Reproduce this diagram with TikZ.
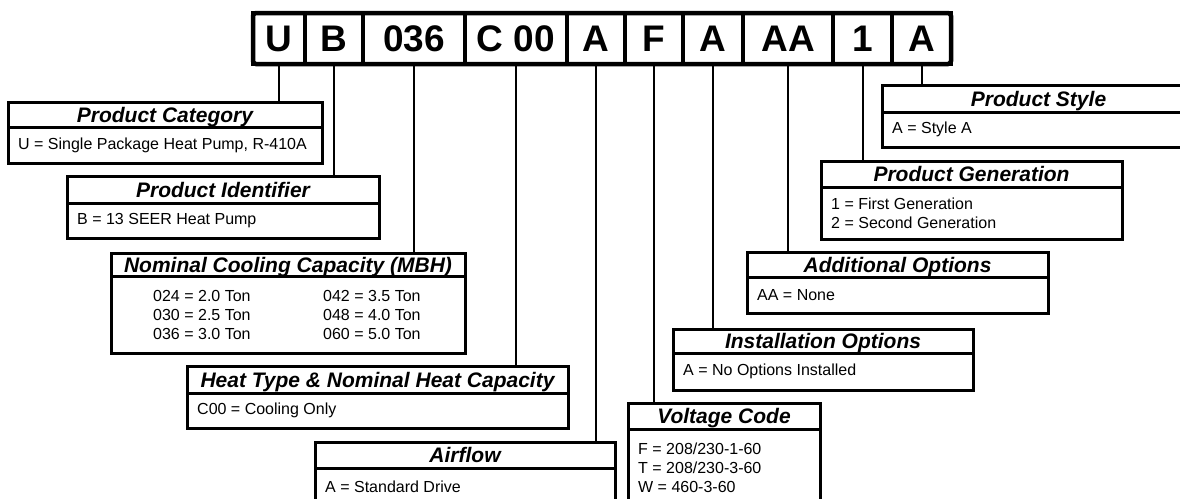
\documentclass[tikz,border=0pt]{standalone}
\usepackage{fontspec}
\setmainfont{Liberation Sans}
\newcommand\infobox[8]{%
  \pgfmathsetmacro\ibw{#6-#2}%
  \pgfmathsetmacro\ibh{#4-#3}%
  \pgfmathsetmacro\ibb{#5-#4}%
  \node[hdr, minimum width=\ibw pt, minimum height=\ibh pt] (#1) at (#2,#3) {#7};
  \node[bodybox, minimum width=\ibw pt, minimum height=\ibb pt] (#1b) at (#2,#4) {};
  \node[bodytext] (#1t) at ([xshift=10pt]#1b.west) {#8};
}
\begin{document}
\begin{tikzpicture}[x=1pt,y=-1pt,
  hdr/.style={draw, line width=3pt, inner sep=0pt, outer sep=0pt, anchor=north west,
    text height=15pt, text depth=0pt, font=\bfseries\itshape\fontsize{21}{21}\selectfont},
  bodybox/.style={draw, line width=3pt, inner sep=0pt, outer sep=0pt, anchor=north west},
  bodytext/.style={anchor=west, align=left, inner sep=0pt, font=\fontsize{16}{19}\selectfont},
  cell/.style={draw, line width=3.5pt, inner sep=0pt, outer sep=0pt, anchor=north west,
    minimum height=51pt, text height=26.5pt, text depth=0pt, font=\bfseries\fontsize{37}{37}\selectfont},
  conn/.style={line width=2pt}]
\useasboundingbox (0,0) rectangle (1180,498);
\clip (0,0) rectangle (1180,498);
\fill[white] (0,0) rectangle (1180,498);

% code cells
\node[cell, minimum width=52pt]  (c1)  at (253,13) {U};
\node[cell, minimum width=58pt]  (c2)  at (305,13) {B};
\node[cell, minimum width=102pt] (c3)  at (363,13) {036};
\node[cell, minimum width=102pt] (c4)  at (465,13) {C 00};
\node[cell, minimum width=58pt]  (c5)  at (567,13) {A};
\node[cell, minimum width=58pt]  (c6)  at (625,13) {F};
\node[cell, minimum width=60pt]  (c7)  at (683,13) {A};
\node[cell, minimum width=90pt]  (c8)  at (743,13) {AA};
\node[cell, minimum width=59pt]  (c9)  at (833,13) {1};
\node[cell, minimum width=59pt]  (c10) at (892,13) {A};
\draw[line width=4.5pt, rounded corners=3pt] (c1.north west) rectangle (c10.south east);

% description boxes
\infobox{pc}{8}{102}{127}{163}{322}{Product Category}{U = Single Package Heat Pump, R-410A}
\infobox{pi}{67}{176}{203}{238}{379}{Product Identifier}{B = 13 SEER Heat Pump}
\infobox{nc}{111}{253}{276}{353}{465}{Nominal Cooling Capacity (MBH)}{}
\node[bodytext] (nc1) at (153,315) {024 = 2.0 Ton\\030 = 2.5 Ton\\036 = 3.0 Ton};
\node[bodytext] (nc2) at (323,315) {042 = 3.5 Ton\\048 = 4.0 Ton\\060 = 5.0 Ton};
\infobox{ht}{187}{366}{393}{428}{568}{Heat Type \& Nominal Heat Capacity}{C00 = Cooling Only}
\infobox{af}{315}{442}{468}{506}{615}{Airflow}{A = Standard Drive}
\infobox{vc}{628}{403}{429}{506}{820}{Voltage Code}{F = 208/230-1-60\\T = 208/230-3-60\\W = 460-3-60}
\infobox{io}{673}{329}{353}{390}{973}{Installation Options}{A = No Options Installed}
\infobox{ao}{747}{252}{277}{313}{1048}{Additional Options}{AA = None}
\infobox{pg}{821}{161}{187}{239}{1122}{Product Generation}{1 = First Generation\\2 = Second Generation}
\infobox{ps}{882}{85}{112}{147}{1195}{Product Style}{A = Style A}

% connectors
\draw[conn] (c1.south) -- (c1.south |- pc.north);
\draw[conn] (c2.south) -- (c2.south |- pi.north);
\draw[conn] (c3.south) -- (c3.south |- nc.north);
\draw[conn] (c4.south) -- (c4.south |- ht.north);
\draw[conn] (c5.south) -- (c5.south |- af.north);
\draw[conn] (c6.south) -- (c6.south |- vc.north);
\draw[conn] (c7.south) -- (c7.south |- io.north);
\draw[conn] (c8.south) -- (c8.south |- ao.north);
\draw[conn] (c9.south) -- (c9.south |- pg.north);
\draw[conn] (c10.south) -- (c10.south |- ps.north);
\end{tikzpicture}
\end{document}
